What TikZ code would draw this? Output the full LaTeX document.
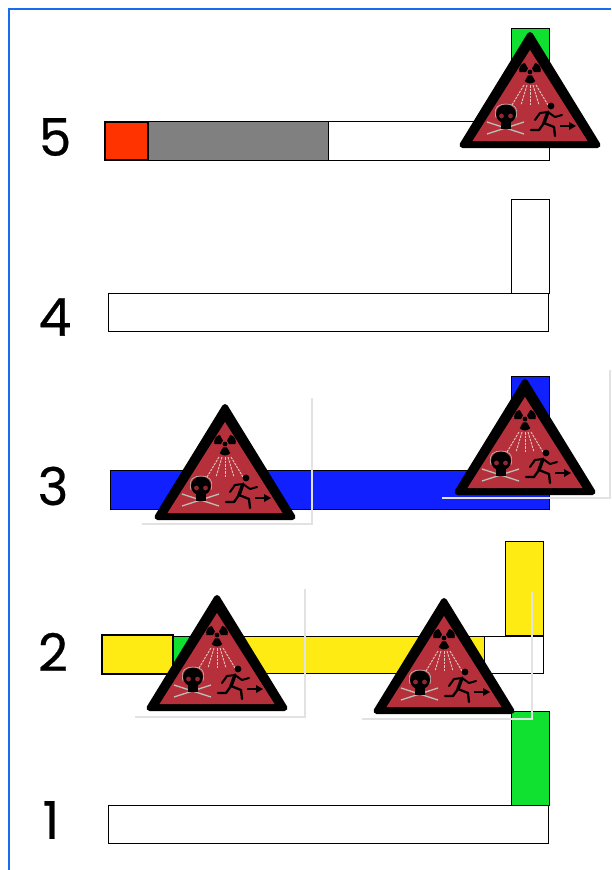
\documentclass[tikz,border=0pt]{standalone}
\usepackage{fontspec}
\setmainfont{Poppins}[FakeBold=0.5]
\definecolor{frameblue}{HTML}{1A6BF0}
\definecolor{barblue}{HTML}{1020FF}
\definecolor{bargreen}{HTML}{10E030}
\definecolor{baryellow}{HTML}{FFEB14}
\definecolor{barred}{HTML}{FF3300}
\definecolor{bargray}{HTML}{808080}
\definecolor{signred}{HTML}{B5303A}
\definecolor{shade}{HTML}{E2E2E2}
\definecolor{raypink}{HTML}{E8C4C0}
\definecolor{bone}{HTML}{B8C0B8}
\tikzset{
  x=1pt,y=-1pt,
  bar/.style={draw=black,line width=0.9pt},
  edge/.style={draw=black,line width=1.8pt},
  shadeline/.style={draw=shade,line width=2pt},
  digit/.style={inner sep=0pt,font=\fontsize{52}{52}\selectfont},
  limb/.style={black,line cap=round,line join=round},
  pics/hazard/.style={code={
    \path[draw=black,fill=black,line width=6pt,line join=round] (0,5) -- (67.5,115) -- (-67.5,115) -- cycle;
    \fill[signred] (0,20) -- (57.5,111) -- (-57.5,111) -- cycle;
    % trefoil
    \begin{scope}[shift={(0,42)}]
      \fill[black] (0,0) circle (2.4);
      \foreach \a in {90,210,330}{
        \fill[black] (\a-30:4) -- (\a-30:10.5) -- (\a-15:11.2) -- (\a:11.5) -- (\a+15:11.2) -- (\a+30:10.5) -- (\a+30:4) -- cycle;
      }
    \end{scope}
    % rays
    \foreach \dx/\ex in {-6/-18,-3/-9,0/0,3/9,6/18}{
      \draw[raypink,line width=0.9pt,dash pattern=on 2.5pt off 1pt] (\dx,55) -- (\ex,75);
    }
    % skull and bones
    \draw[bone,line width=1.3pt] (-43,92) -- (-6,104);
    \draw[bone,line width=1.3pt] (-43,104) -- (-6,92);
    \fill[black] (-24,84) ellipse (10 and 9.5);
    \fill[black] (-29,90) rectangle (-19,99);
    \draw[bone,line width=0.6pt] (-34,88) .. controls (-37,76) and (-30,74) .. (-24,74) .. controls (-18,74) and (-11,76) .. (-14,88);
    \fill[signred!80!black] (-28.5,86) circle (2.4) (-19.5,86) circle (2.4);
    % runner
    \fill[black] (21,76) circle (3.4);
    \draw[limb,line width=3.4pt] (18,82) -- (14,93);
    \draw[limb,line width=2.3pt] (14,93) -- (9,100) -- (1,100);
    \draw[limb,line width=2.3pt] (14,93) -- (24,97) -- (25,106);
    \draw[limb,line width=2pt] (18,82) -- (10,83) -- (5,90);
    \draw[limb,line width=2pt] (18,82) -- (25,87) -- (32,85);
    % arrow
    \draw[black,line width=1.6pt] (30,96) -- (41,96);
    \fill[black] (46,96) -- (39,92) -- (39,100) -- cycle;
  }}
}
\begin{document}
\begin{tikzpicture}
\useasboundingbox (0,0) rectangle (611,870);
\fill[white] (0,0) rectangle (611,870);
% frame
\draw[frameblue,line width=2pt] (9,870) -- (9,9) -- (611,9);

% row 5
\draw[bar,fill=bargreen] (511,28) rectangle (549,121);
\draw[bar,fill=white] (328,121) rectangle (549,160);
\draw[bar,fill=bargray] (148,121) rectangle (328,160);
\draw[edge,fill=barred] (105,122) rectangle (148,160);
\pic at (530,30) {hazard};
\node[digit] (n5) at (55,137) {5};

% row 4
\draw[bar,fill=white] (511,199) rectangle (549,293);
\draw[bar,fill=white] (108,293) rectangle (548,331);
\node[digit] (n4) at (55,317) {4};

% row 3
\draw[bar,fill=barblue] (511,376) rectangle (549,470);
\draw[bar,fill=barblue] (110,470) rectangle (549,509);
\pic at (225,402) {hazard};
\pic at (525,377) {hazard};
\draw[shadeline] (312,398) -- (312,524) -- (142,524);
\draw[shadeline] (610,370) -- (610,498) -- (442,498);
\node[digit] (n3) at (53,486) {3};

% row 1 (lies under the marks of row 2)
\draw[bar,fill=bargreen] (511,711) rectangle (549,805);
\draw[bar,fill=white] (108,805) rectangle (548,843);
\node[digit] (n1) at (51,820) {1};

% row 2
\draw[bar,fill=baryellow] (505,541) rectangle (543,635);
\draw[bar,fill=white] (484,636) rectangle (543,673);
\draw[bar,fill=baryellow] (173,636) rectangle (484,673);
\draw[bar,fill=bargreen] (173,636) rectangle (200,673);
\draw[edge,fill=baryellow] (102,635) rectangle (173,674);
\pic at (217,593) {hazard};
\pic at (444,596) {hazard};
\draw[shadeline] (305,589) -- (305,717) -- (135,717);
\draw[shadeline] (532,592) -- (532,719) -- (362,719);
\node[digit] (n2) at (53,652) {2};
\end{tikzpicture}
\end{document}
